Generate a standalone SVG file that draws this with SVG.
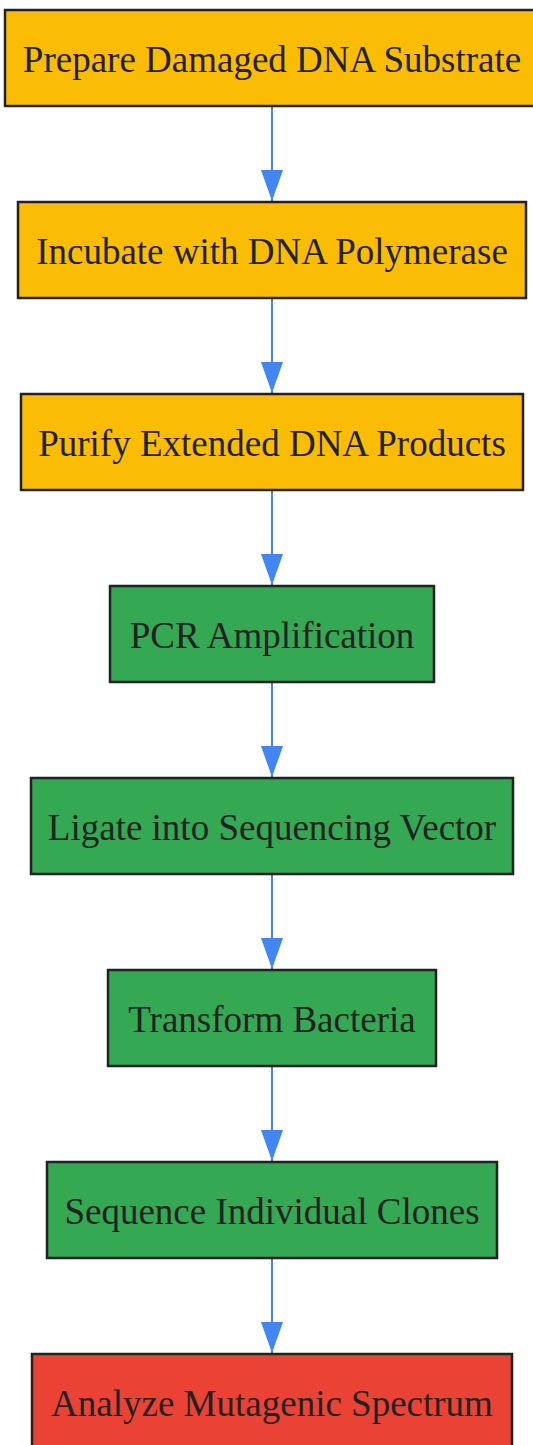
<svg xmlns="http://www.w3.org/2000/svg" width="533" height="1445" viewBox="0 0 533 1445">
<style>
.n rect{stroke:#222;stroke-width:2.5}
.y rect{fill:#FBBC05}
.g rect{fill:#34A853}
.r rect{fill:#EA4335}
.n text{font-family:"Liberation Serif",serif;font-size:37px;fill:#222;text-anchor:middle}
.e{stroke:#4285F4;stroke-width:2;fill:none;marker-end:url(#ah)}
</style>
<defs>
<marker id="ah" markerWidth="31" markerHeight="22" refX="31" refY="11" orient="auto" markerUnits="userSpaceOnUse" viewBox="0 0 31 22">
<polygon points="0,0 31,11 0,22" fill="#4285F4"/>
</marker>
</defs>
<rect width="533" height="1445" fill="#fff"/>
<g id="edges">
<line class="e" x1="272" y1="106" x2="272" y2="201"/>
<line class="e" x1="272" y1="298" x2="272" y2="393"/>
<line class="e" x1="272" y1="490" x2="272" y2="585"/>
<line class="e" x1="272" y1="682" x2="272" y2="777"/>
<line class="e" x1="272" y1="874" x2="272" y2="969"/>
<line class="e" x1="272" y1="1066" x2="272" y2="1161"/>
<line class="e" x1="272" y1="1258" x2="272" y2="1353"/>
</g>
<g id="n1" class="n y"><rect x="5" y="10" width="534" height="96"/><text x="272" y="72">Prepare Damaged DNA Substrate</text></g>
<g id="n2" class="n y"><rect x="18" y="202" width="508" height="96"/><text x="272" y="264">Incubate with DNA Polymerase</text></g>
<g id="n3" class="n y"><rect x="21" y="394" width="502" height="96"/><text x="272" y="456">Purify Extended DNA Products</text></g>
<g id="n4" class="n g"><rect x="110" y="586" width="324" height="96"/><text x="272" y="648">PCR Amplification</text></g>
<g id="n5" class="n g"><rect x="31" y="778" width="482" height="96"/><text x="272" y="840">Ligate into Sequencing Vector</text></g>
<g id="n6" class="n g"><rect x="108" y="970" width="328" height="96"/><text x="272" y="1032">Transform Bacteria</text></g>
<g id="n7" class="n g"><rect x="47" y="1162" width="450" height="96"/><text x="272" y="1224">Sequence Individual Clones</text></g>
<g id="n8" class="n r"><rect x="32" y="1354" width="480" height="96"/><text x="272" y="1416">Analyze Mutagenic Spectrum</text></g>
</svg>
